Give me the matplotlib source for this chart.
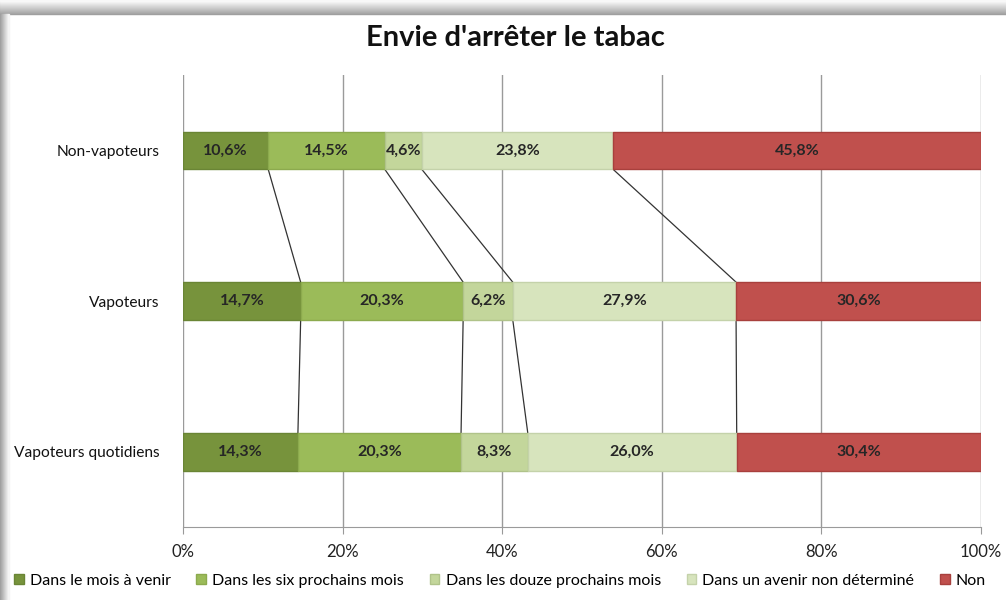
import numpy as np
import matplotlib.pyplot as plt
from matplotlib.patches import Rectangle

categories = ["Non-vapoteurs", "Vapoteurs", "Vapoteurs quotidiens"]
series = ["Dans le mois à venir", "Dans les six prochains mois",
          "Dans les douze prochains mois", "Dans un avenir non déterminé", "Non"]
values = np.array([
    [10.6, 14.5, 4.6, 23.8, 45.8],
    [14.7, 20.3, 6.2, 27.9, 30.6],
    [14.3, 20.3, 8.3, 26.0, 30.4],
])
colors = ["#77933C", "#9BBB59", "#C3D69B", "#D7E4BD", "#C0504D"]
edges = ["#6A8535", "#8CAA4E", "#B0C38A", "#C4D2AA", "#A8403D"]

plt.rcParams['font.family'] = ['Lato', 'DejaVu Sans']

fig = plt.figure(figsize=(10.06, 6.0), dpi=100)
fig.patch.set_facecolor("white")

# picture frame shadow (top and left)
for i in range(14):
    g = 0.62 + 0.38 * i / 14
    fig.patches.append(Rectangle((0, 1 - (14 - i) / 600), 1, 1 / 600, transform=fig.transFigure,
                                 color=(g, g, g), zorder=0))
for i in range(9):
    g = 0.62 + 0.38 * i / 9
    fig.patches.append(Rectangle(((i) / 1006, 0), 1 / 1006, 1 - 14 / 600, transform=fig.transFigure,
                                 color=(g, g, g), zorder=0))

ax = fig.add_axes([183 / 1006, 1 - 527 / 600, 798 / 1006, 452 / 600])

# 100% stacked
shares = values / values.sum(axis=1, keepdims=True) * 100
y = np.arange(len(categories))
h = 0.25
left = np.zeros(len(categories))
for j, s in enumerate(series):
    ax.barh(y, shares[:, j], left=left, height=h, color=colors[j], edgecolor=edges[j],
            linewidth=1, label=s, zorder=3)
    for i in range(len(categories)):
        ax.text(left[i] + shares[i, j] / 2, y[i], f"{values[i, j]:.1f}%".replace(".", ","),
                ha="center", va="center", fontsize=11.5, fontweight="bold", color="#262626", zorder=4)
    left += shares[:, j]

# series lines between bars
cum = np.cumsum(shares, axis=1)[:, :-1]
for i in range(len(categories) - 1):
    for j in range(cum.shape[1]):
        ax.plot([cum[i, j], cum[i + 1, j]], [y[i] + h / 2, y[i + 1] - h / 2],
                color="#333333", lw=0.9, zorder=2)

ax.set_xlim(0, 100)
ax.set_ylim(2.5, -0.5)
ax.set_xticks(np.arange(0, 101, 20))
ax.set_xticklabels([f"{t}%" for t in range(0, 101, 20)], fontsize=12, color="#222222")
ax.set_yticks(y)
ax.set_yticklabels(categories, fontsize=11.2, color="#111111")
ax.tick_params(axis="y", length=0, pad=17)
ax.tick_params(axis="x", length=5, color="#999999", pad=7)
ax.grid(axis="x", color="#9a9a9a", lw=1, zorder=0)
for side in ["top", "right", "left"]:
    ax.spines[side].set_visible(False)
ax.spines["bottom"].set_color("#9a9a9a")

fig.text(0.512, 1 - 38 / 600, "Envie d'arrêter le tabac", ha="center", va="center",
         fontsize=21, fontweight="bold", color="#111111")

fig.legend(loc="center", bbox_to_anchor=(0.497, 1 - 581 / 600), ncol=5, frameon=False,
           fontsize=11.5, handlelength=0.6, handleheight=0.6, handletextpad=0.4, columnspacing=1.6)

fig.savefig("out.png", dpi=100)
